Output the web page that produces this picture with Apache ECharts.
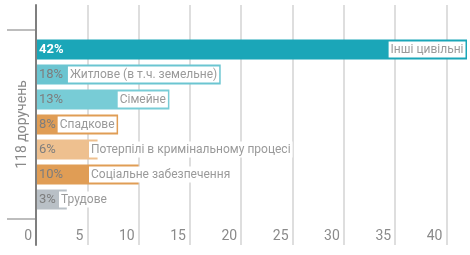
<!DOCTYPE html>
<html>
<head>
<meta charset="utf-8">
<script src="https://cdn.jsdelivr.net/npm/echarts@6/dist/echarts.min.js"></script>
<style>
html,body{margin:0;padding:0;background:#fff;}
#c{width:470px;height:255px;}
</style>
</head>
<body>
<div id="c"></div>
<script>
// ---- data ----
const categories = ['Інші цивільні', 'Житлове (в т.ч. земельне)', 'Сімейне', 'Спадкове',
  'Потерпілі в кримінальному процесі', 'Соціальне забезпечення', 'Трудове'];
const values = [42, 18, 13, 8, 6, 10, 3];
const groupLabel = ['118 доручень'];
const xMin = 0, xMax = 42, xInterval = 5;

// ---- styles ----
const FONT = 'Roboto, "Liberation Sans", sans-serif';
const barColors = ['#1ba6b8', '#6bc5d1', '#78ccd6', '#e09d55', '#eec08f', '#e09d55', '#b9c0c6'];
const pctColors = ['#ffffff', '#7d7d7d', '#7d7d7d', '#7d7d7d', '#7d7d7d', '#7d7d7d', '#7d7d7d'];
const pctWeights = ['bold', 'normal', 'normal', 'normal', 'normal', 'normal', 'normal'];
const namePlacement = [
  {position: 'insideRight', distance: 1.5},
  {position: 'insideRight', distance: 1.5},
  {position: 'insideRight', distance: 1.5},
  {position: 'insideRight', distance: 1.5},
  {position: 'insideLeft', distance: 53},
  {position: 'insideLeft', distance: 53},
  {position: 'insideLeft', distance: 23}
];

const chart = echarts.init(document.getElementById('c'), null, {renderer: 'canvas'});

const series = [];
values.forEach((v, i) => {
  series.push({
    type: 'bar', xAxisIndex: 1, yAxisIndex: 2,
    barWidth: 20, barGap: '25%',
    data: [v],
    itemStyle: {color: 'rgba(0,0,0,0)'},
    label: {
      show: true, position: namePlacement[i].position, distance: namePlacement[i].distance,
      formatter: categories[i],
      fontFamily: FONT, fontSize: 12, color: '#9a9a9a',
      backgroundColor: '#ffffff', padding: [0, 2, 0, 2], lineHeight: 16, height: 16
    },
    z: 3, silent: true, animation: false
  });
});
values.forEach((v, i) => {
  series.push({
    type: 'bar', xAxisIndex: 1, yAxisIndex: 1,
    barWidth: 20, barGap: '25%',
    data: [v],
    itemStyle: {color: barColors[i]},
    label: {
      show: true, position: 'insideLeft', distance: 3,
      formatter: v + '%',
      fontFamily: FONT, fontSize: 13, color: pctColors[i], fontWeight: pctWeights[i]
    },
    z: 2, zlevel: 0, silent: true, animation: false
  });
});

chart.setOption({
  animation: false,
  grid: [
    {left: 36, right: 3, top: 5, bottom: 10},
    {left: 36, right: 3, top: 30, bottom: 36}
  ],
  xAxis: [
    {
      gridIndex: 0, type: 'value', min: xMin, max: xMax, interval: xInterval,
      axisLine: {show: false}, axisTick: {show: false},
      splitLine: {show: true, showMaxLine: false, lineStyle: {color: '#dedede', width: 2}},
      axisLabel: {
        inside: true, margin: 2, showMaxLabel: false, align: 'right', padding: [0, 4, 0, 0],
        fontFamily: FONT, fontSize: 14, color: '#8a8a8a'
      }
    },
    {
      gridIndex: 1, type: 'value', min: xMin, max: xMax, interval: xInterval, show: false
    }
  ],
  yAxis: [
    {
      gridIndex: 0, type: 'value', min: 0, max: 1, z: 10,
      axisLine: {show: true, lineStyle: {color: '#7f7f7f', width: 2}},
      axisTick: {show: false}, axisLabel: {show: false}, splitLine: {show: false}
    },
    {
      gridIndex: 1, type: 'category', data: groupLabel, inverse: true,
      axisLine: {show: false},
      axisTick: {show: true, length: 29, lineStyle: {color: '#bdbdbd', width: 2}},
      axisLabel: {
        rotate: 90, margin: 7, fontFamily: FONT, fontSize: 14, color: '#8a8a8a'
      },
      splitLine: {show: false}
    },
    {
      gridIndex: 1, type: 'category', data: groupLabel, inverse: true, show: false
    }
  ],
  series: series
});
</script>
</body>
</html>
